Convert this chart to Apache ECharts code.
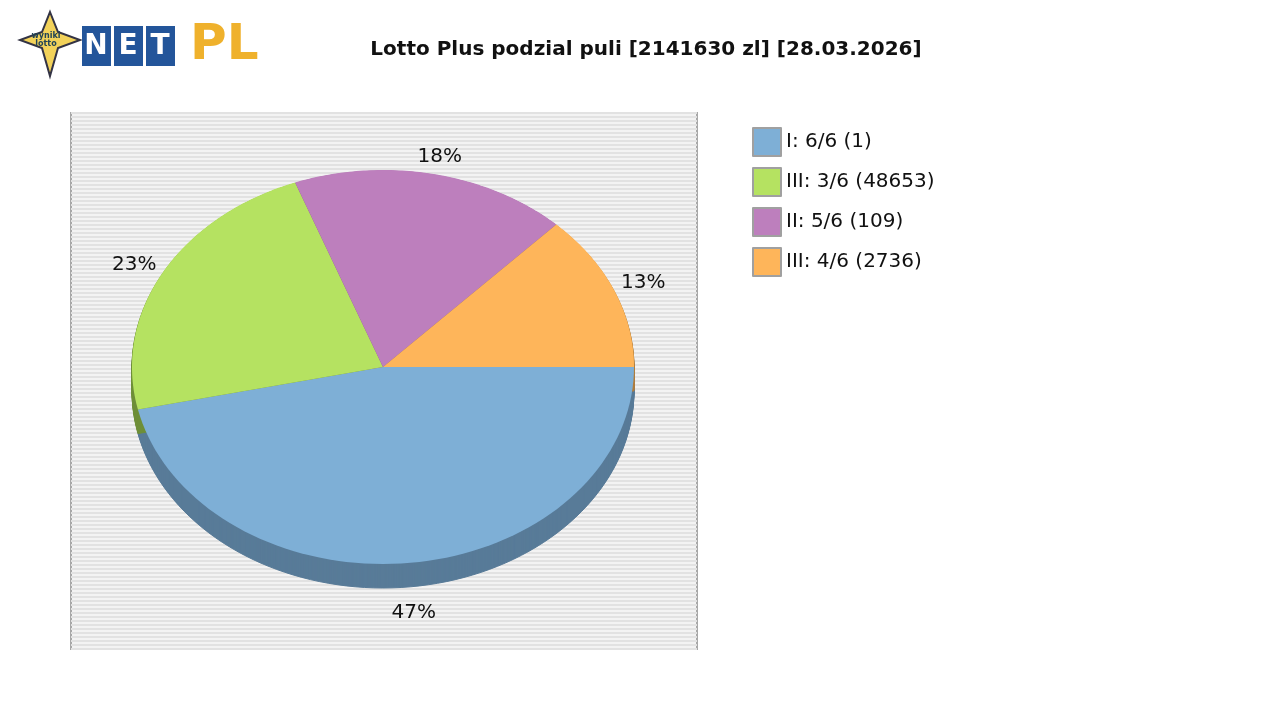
<!DOCTYPE html><html><head><meta charset="utf-8">
<script src="https://cdn.jsdelivr.net/npm/echarts@6/dist/echarts.min.js"></script>
<style>html,body{margin:0;background:#fff}#c{width:1280px;height:720px}</style></head><body><div id="c"></div>
<script>
const categories=['I: 6/6 (1)','III: 3/6 (48653)','II: 5/6 (109)','III: 4/6 (2736)'];
const values=[47,23,18,13];
const percentLabels=['47%','23%','18%','13%'];
const colors=['#7eafd6','#b5e261','#bd7fbd','#feb55a'];
const darkColors=['#587b98','#6e8f38','#7f547f','#b07d3c'];
const titleText='Lotto Plus podzial puli [2141630 zl] [28.03.2026]';

const CX=383,CY=367,RX=251,RY=197,DEPTH=24;
const total=values.reduce((a,b)=>a+b,0);
const starts=[];let acc=0;values.forEach(v=>{starts.push(acc/total*2*Math.PI);acc+=v;});
function sectorPts(i,dy){
  const a0=starts[i],a1=a0+values[i]/total*2*Math.PI;const pts=[[CX,CY+dy]];
  const n=80;for(let k=0;k<=n;k++){const a=a0+(a1-a0)*k/n;pts.push([CX+RX*Math.cos(a),CY+dy+RY*Math.sin(a)]);}
  return pts;
}
const chart=echarts.init(document.getElementById('c'));
const stripeCount=134;
chart.setOption({
  animation:false,
  title:{text:titleText,left:641,top:35,textAlign:'center',textStyle:{fontFamily:'DejaVu Sans',fontWeight:'bold',fontSize:20,color:'#111'}},
  grid:{left:71,top:113,width:626,height:536,show:true,backgroundColor:'#f3f3f3',borderColor:'#a8a8a8',borderWidth:2},
  xAxis:{type:'value',min:0,max:1,show:false},
  yAxis:{type:'value',min:0,max:stripeCount,interval:1,axisLabel:{show:false},axisLine:{show:false},axisTick:{show:false},splitLine:{lineStyle:{color:'#e2e2e2',width:2}}},
  legend:{orient:'vertical',left:747,top:122,itemWidth:28,itemHeight:28,itemGap:10,icon:'rect',
    itemStyle:{borderColor:'#a0a0a0',borderWidth:2},
    textStyle:{fontFamily:'DejaVu Sans',fontSize:20,color:'#111'},data:categories},
  color:colors,
  series:[
    {type:'pie',radius:[0,0],center:[-100,-100],label:{show:false},data:categories.map((n,i)=>({name:n,value:values[i]}))},
    {type:'custom',coordinateSystem:'none',data:values.map((v,i)=>[i]),
     renderItem:(p,api)=>{const i=p.dataIndex;const children=[];
       for(let d=DEPTH;d>0;d-=1){children.push({type:'polygon',shape:{points:sectorPts(i,d)},style:{fill:darkColors[i],stroke:darkColors[i],lineWidth:1}});}
       return {type:'group',children};},z:2},
    {type:'custom',coordinateSystem:'none',data:values.map((v,i)=>[i]),
     renderItem:(p,api)=>{const i=p.dataIndex;const a=starts[i]+values[i]/total*Math.PI;
       const s=Math.sin(a);const extra=s>0?(DEPTH+8)*s:0;
       return {type:'group',children:[
         {type:'polygon',shape:{points:sectorPts(i,0)},style:{fill:colors[i]}},
         {type:'text',style:{text:percentLabels[i],x:CX+(RX+32)*Math.cos(a),y:CY+(RY+18)*Math.sin(a)+extra,align:'center',verticalAlign:'middle',font:'20px DejaVu Sans',fill:'#111'}}]};},z:3}
  ],
  graphic:[
    {type:'polygon',shape:{points:[[50,12],[58,32],[80,40],[58,48],[50,76],[42,48],[20,40],[42,32]]},style:{fill:'#f2d25a',stroke:'#334',lineWidth:2}},
    {type:'text',style:{text:'wyniki\nlotto',x:46,y:40,align:'center',verticalAlign:'middle',font:'bold 8px DejaVu Sans',fill:'#245'}},
    ...['N','E','T'].map((t,k)=>({type:'group',children:[
      {type:'rect',shape:{x:82+k*32,y:26,width:29,height:40},style:{fill:'#23559a'}},
      {type:'text',style:{text:t,x:96+k*32,y:47,align:'center',verticalAlign:'middle',font:'bold 28px DejaVu Sans',fill:'#fff'}}]})),
    {type:'text',style:{text:'PL',x:190,y:46,verticalAlign:'middle',font:'bold 50px DejaVu Sans',fill:'#efb12c'}}
  ]
});
</script></body></html>
